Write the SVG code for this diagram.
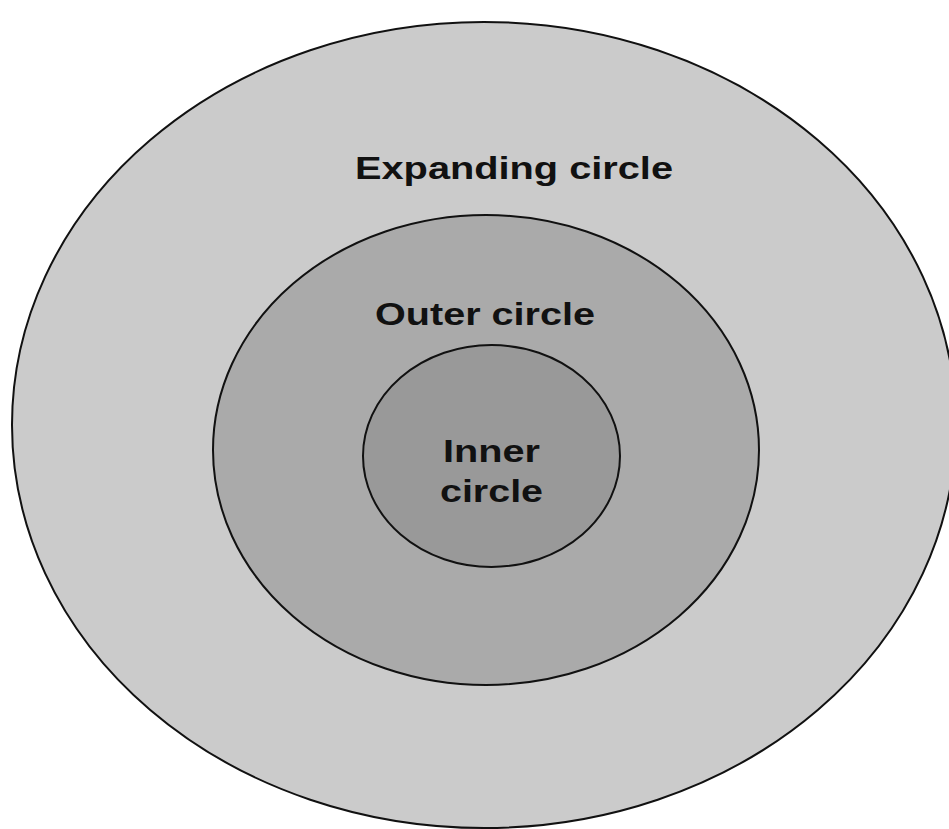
<svg xmlns="http://www.w3.org/2000/svg" width="949" height="829" viewBox="0 0 949 829">
<style>
.ring{stroke:#111;stroke-width:2}
.lbl{font-family:"Liberation Sans",Arial,sans-serif;font-weight:bold;font-size:31px;fill:#111}
</style>
<rect width="949" height="829" fill="#fff"/>
<g id="expanding">
<ellipse class="ring" cx="484" cy="425" rx="472" ry="403" fill="#cbcbcb"/>
<text class="lbl" x="355" y="179" textLength="318" lengthAdjust="spacingAndGlyphs">Expanding circle</text>
</g>
<g id="outer">
<ellipse class="ring" cx="486" cy="450" rx="273" ry="235" fill="#aaaaaa"/>
<text class="lbl" x="375" y="325" textLength="220" lengthAdjust="spacingAndGlyphs">Outer circle</text>
</g>
<g id="inner">
<ellipse class="ring" cx="491.5" cy="456" rx="128.5" ry="111" fill="#999999"/>
<text class="lbl" x="443" y="462" textLength="97" lengthAdjust="spacingAndGlyphs">Inner</text>
<text class="lbl" x="440" y="502" textLength="103" lengthAdjust="spacingAndGlyphs">circle</text>
</g>
<g id="connectors"/>
</svg>
